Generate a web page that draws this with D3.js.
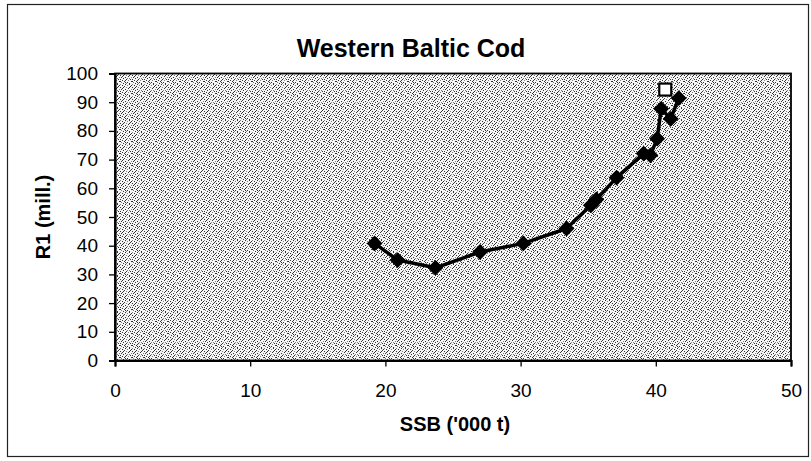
<!DOCTYPE html>
<html>
<head>
<meta charset="utf-8">
<script src="https://cdn.jsdelivr.net/npm/d3@7"></script>
<style>
  html, body { margin: 0; padding: 0; background: #fff; }
  svg { display: block; }
  text { font-family: "Liberation Sans", Arial, sans-serif; fill: #000; }
</style>
</head>
<body>
<svg id="chart" width="811" height="461"></svg>
<script>
// Western Baltic cod: recruitment (R1) against spawning stock biomass (SSB)
const ssb = [19.2, 20.9, 23.7, 27.0, 30.2, 33.4, 35.2, 35.6, 37.1, 39.1, 39.6, 40.1, 40.4, 41.1, 41.7];
const r1  = [40.8, 35.0, 32.3, 37.8, 40.8, 46.0, 54.1, 56.1, 63.7, 72.1, 71.5, 77.3, 87.7, 84.2, 91.4];
// separate point drawn as an open square
const ssbOpen = [40.7];
const r1Open  = [94.4];

const xTicks = [0, 10, 20, 30, 40, 50];
const yTicks = [0, 10, 20, 30, 40, 50, 60, 70, 80, 90, 100];

const titleText = "Western Baltic Cod";
const xTitle = "SSB ('000 t)";
const yTitle = "R1 (mill.)";

const svg = d3.select("#chart");
const plot = { left: 115, right: 791, top: 73.5, bottom: 360.5 };

// stippled grey fill for the plot area: an irregular 12x12 tile of dark dots
const defs = svg.append("defs");
const pat = defs.append("pattern")
  .attr("id", "stipple")
  .attr("patternUnits", "userSpaceOnUse")
  .attr("width", 12).attr("height", 12);
pat.append("rect").attr("width", 12).attr("height", 12).attr("fill", "#f6f6f6");
const dots = [
  [0,0],[5,0],[9,0],[2,1],[7,1],[11,1],[4,2],[0,3],[6,3],[9,3],
  [2,4],[8,4],[11,5],[1,5],[5,5],[3,6],[7,6],[10,7],[0,7],[5,8],
  [8,8],[2,8],[11,9],[4,9],[1,10],[7,10],[9,11],[3,11],[6,11],[10,2],
  [6,7],[3,3],[9,6],[0,9],[5,10]
];
dots.forEach(([px, py], i) => {
  pat.append("rect").attr("x", px).attr("y", py).attr("width", 1).attr("height", 1)
    .attr("fill", i % 4 === 0 ? "#808080" : "#333");
});

// outer chart frame
svg.append("rect")
  .attr("x", 7.5).attr("y", 4.5)
  .attr("width", 801).attr("height", 452)
  .attr("fill", "#fff").attr("stroke", "#222").attr("stroke-width", 1.2);

const x = d3.scaleLinear().domain([0, 50]).range([plot.left, plot.right]);
const y = d3.scaleLinear().domain([0, 100]).range([plot.bottom, plot.top]);

// plot area
svg.append("rect")
  .attr("x", plot.left).attr("y", plot.top)
  .attr("width", plot.right - plot.left).attr("height", plot.bottom - plot.top)
  .attr("fill", "url(#stipple)")
  .attr("stroke", "#000").attr("stroke-width", 1.8);

// axes
const xAxis = d3.axisBottom(x).tickValues(xTicks).tickSize(6).tickPadding(17).tickFormat(d3.format("d"));
const yAxis = d3.axisLeft(y).tickValues(yTicks).tickSize(6).tickPadding(11).tickFormat(d3.format("d"));

const gx = svg.append("g").attr("transform", `translate(0,${plot.bottom})`).call(xAxis);
const gy = svg.append("g").attr("transform", `translate(${plot.left},0)`).call(yAxis);
[gx, gy].forEach(g => {
  g.select(".domain").attr("stroke", "#000").attr("stroke-width", 2.2);
  g.selectAll(".tick line").attr("stroke", "#000").attr("stroke-width", 1.3);
  g.selectAll(".tick text")
    .style("font-family", '"Liberation Sans", Arial, sans-serif')
    .style("font-size", "19px").attr("fill", "#000");
});

// connecting line
const pts = ssb.map((d, i) => [d, r1[i]]);
svg.append("path")
  .datum(pts)
  .attr("fill", "none")
  .attr("stroke", "#000")
  .attr("stroke-width", 3.5)
  .attr("stroke-linejoin", "round")
  .attr("d", d3.line().x(d => x(d[0])).y(d => y(d[1])));

// diamond markers
const diamond = d3.symbol().type(d3.symbolSquare).size(100);
svg.append("g").selectAll("path")
  .data(pts)
  .join("path")
  .attr("d", diamond)
  .attr("transform", d => `translate(${x(d[0])},${y(d[1])}) rotate(45)`)
  .attr("fill", "#000")
  .attr("stroke", "#000")
  .attr("stroke-width", 1.2);

// open square marker
svg.append("g").selectAll("rect")
  .data(ssbOpen.map((d, i) => [d, r1Open[i]]))
  .join("rect")
  .attr("x", d => x(d[0]) - 6)
  .attr("y", d => y(d[1]) - 6)
  .attr("width", 12).attr("height", 12)
  .attr("fill", "#fff")
  .attr("stroke", "#000")
  .attr("stroke-width", 2.2);

// titles
svg.append("text")
  .attr("x", 411).attr("y", 57)
  .attr("text-anchor", "middle")
  .style("font-size", "25px").style("font-weight", "bold")
  .text(titleText);

svg.append("text")
  .attr("x", 455).attr("y", 431)
  .attr("text-anchor", "middle")
  .style("font-size", "20px").style("font-weight", "bold")
  .text(xTitle);

svg.append("text")
  .attr("transform", `translate(50,${(plot.top + plot.bottom) / 2}) rotate(-90)`)
  .attr("text-anchor", "middle")
  .style("font-size", "20px").style("font-weight", "bold")
  .text(yTitle);
</script>
</body>
</html>
